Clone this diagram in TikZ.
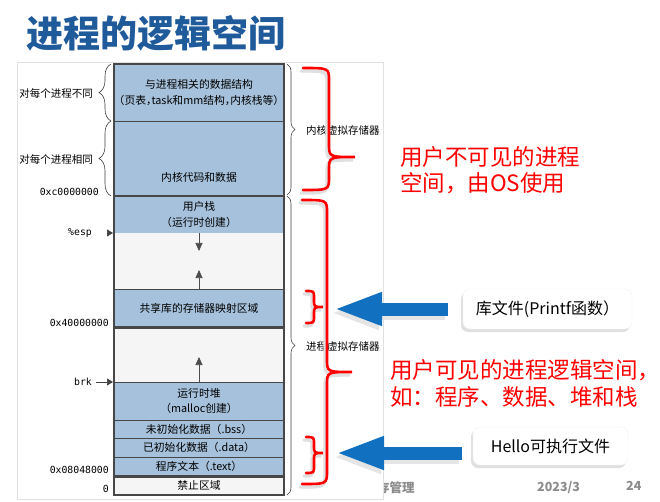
\documentclass[tikz,border=0pt]{standalone}
\usepackage{fontspec}
\setmainfont{Noto Sans CJK SC}
\newfontfamily\addrfont{DejaVu Sans Mono}
\newfontfamily\haltfont{Noto Sans CJK SC}[RawFeature=+halt]
\usetikzlibrary{arrows.meta, positioning, decorations.pathreplacing, shadows}
\definecolor{TitleBlue}{HTML}{1F5A9A}
\definecolor{SegBlue}{HTML}{A6C1DB}
\definecolor{SegEdge}{HTML}{474747}
\definecolor{PtrBlue}{HTML}{1270C0}
\definecolor{FootGray}{HTML}{8C8C8C}
% #1 style, #2 end x, #3 spine x, #4 tip x, #5 top y, #6 tip y, #7 bottom y, #8 hook
\newcommand{\curlybrace}[8]{%
  \draw[#1] (#2,#5) .. controls (#3,#5) .. (#3,#5+#8) -- (#3,#6-#8)
    .. controls (#3,#6) .. (#4,#6) .. controls (#3,#6) .. (#3,#6+#8)
    -- (#3,#7-#8) .. controls (#3,#7) .. (#2,#7);}

\begin{document}
\begin{tikzpicture}[x=1pt, y=-1pt,
  seg/.style={rectangle, fill=SegBlue, minimum width=170pt, minimum height=#1,
    inner sep=0pt, outer sep=0pt, align=center, font=\fontsize{10.8}{15.5}\selectfont},
  hole/.style={seg=#1, fill=black!4},
  segtext/.style={inner sep=0pt, font=\fontsize{10.8}{15.5}\selectfont},
  addr/.style={anchor=east, inner sep=0pt, font=\addrfont\fontsize{9.8}{11}\selectfont},
  side/.style={anchor=east, inner sep=0pt, font=\fontsize{10.5}{12}\selectfont},
  store/.style={anchor=west, inner sep=0pt, font=\fontsize{10.5}{12}\selectfont},
  thinbrace/.style={decorate, decoration={brace, amplitude=#1}, draw=black!75, line width=0.6pt},
  redbrace/.style={draw=red, line width=2.6pt, line cap=round},
  braceshade/.style={draw=black!12, line width=3.4pt, line cap=round,
    transform canvas={xshift=-2pt, yshift=-3pt}},
  growth/.style={draw=black!70, line width=0.7pt, -{Triangle[length=8pt, width=7pt]}},
  pointer/.style={draw=black!75, line width=0.7pt, -{Triangle[length=6pt, width=7pt]}},
  bigarrow/.style={draw=PtrBlue, line width=13pt, -{Triangle[length=49pt, width=30pt]}},
  arrowshade/.style={bigarrow, draw=black!10, transform canvas={xshift=-3pt, yshift=-4pt}},
  callout/.style={rectangle, rounded corners=7pt, fill=white, draw=black!6,
    drop shadow={shadow xshift=-2pt, shadow yshift=-3pt, fill=black!12, opacity=1},
    font=\fontsize{16}{18}\selectfont},
  note/.style={anchor=west, inner sep=0pt, align=left, text=red,
    font=\fontsize{22.5}{26.5}\selectfont},
  footer/.style={anchor=west, inner sep=0pt, text=FootGray,
    font=\bfseries\fontsize{12.5}{14}\selectfont}
]
  \fill[white] (0,0) rectangle (660,502);
  \useasboundingbox (0,0) rectangle (660,502);

  \node[footer] (section) at (377,488) {存管理};
  \node[footer] (date) at (537,488) {2023/3};
  \node[footer] (page) at (626,486) {24};

  % embedded figure
  \draw[fill=white, draw=black!12, line width=0.5pt] (17,62) rectangle (383,499);

  \node[anchor=west, inner sep=0pt, text=TitleBlue,
    font=\bfseries\fontsize{37}{40}\selectfont] (title) at (26,33) {进程的逻辑空间};

  % address space column
  \node[seg=57pt] (kdata) at (199,92.5) {与进程相关的数据结构\\{\haltfont （页表，task和mm结构，内核栈等）}};
  \node[seg=75pt, below=0pt of kdata] (kcode) {};
  \node[segtext] (kcodetext) at ([yshift=19pt]kcode.south) {内核代码和数据};
  \node[seg=37pt, below=0pt of kcode] (ustack) {用户栈\\（运行时创建）};
  \node[hole=56pt, below=0pt of ustack] (stackgap) {};
  \node[seg=38.5pt, below=0pt of stackgap] (shlib) {共享库的存储器映射区域};
  \node[hole=54.5pt, below=0pt of shlib] (heapgap) {};
  \node[seg=38pt, below=0pt of heapgap] (heap) {运行时堆\\（malloc创建）};
  \node[seg=18pt, below=0pt of heap] (bss) {未初始化数据（.bss）};
  \node[seg=19pt, below=0pt of bss] (data) {已初始化数据（.data）};
  \node[seg=19.5pt, below=0pt of data] (progtext) {程序文本（.text）};
  \node[hole=18.5pt, below=0pt of progtext] (forbid) {禁止区域};

  \foreach \seg in {kdata, stackgap, heapgap, heap, bss, data}
    \draw[SegEdge, line width=0.8pt] (\seg.south west) -- (\seg.south east);
  \foreach \seg in {kcode, shlib, progtext}
    \draw[SegEdge, line width=2.6pt] (\seg.south west) -- (\seg.south east);
  \draw[SegEdge, line width=2.6pt] (kdata.north west) rectangle (forbid.south east);

  \coordinate[below=18pt of ustack] (stackend);
  \draw[growth] (ustack.south) -- (stackend);
  \coordinate[above=19pt of shlib] (mmapend);
  \draw[growth] (shlib.north) -- (mmapend);
  \coordinate[above=25pt of heap] (heapend);
  \draw[growth] (heap.north) -- (heapend);

  % left side
  \node[side] (diff) at (93,93) {对每个进程不同};
  \node[side] (same) at (93,159) {对每个进程相同};
  \draw[thinbrace=12pt] (111,121) -- (111,64);
  \draw[thinbrace=12pt] (111,196) -- (111,121);
  \node[addr] (kbase) at (99,192) {0xc0000000};
  \node[addr] (esp) at (92,233) {\%esp};
  \coordinate (espTip) at (113,233);
  \draw[pointer] ([xshift=-6pt]espTip) -- (espTip);
  \node[addr] (mbase) at (109,323) {0x40000000};
  \node[addr] (brk) at (92,382) {brk};
  \coordinate (brkTip) at (113,382);
  \draw[pointer] ([xshift=4pt]brk.east) -- (brkTip);
  \node[addr] (tbase) at (109,470) {0x08048000};
  \node[addr] (zero) at (109,489) {0};

  % right side
  \draw[thinbrace=8pt] (287,64) -- (287,195);
  \node[store] (kvm) at (306,131) {内核虚拟存储器};
  \draw[thinbrace=8pt] (287,196) -- (287,495);
  \node[store] (pvm) at (306,346) {进程虚拟存储器};

  \curlybrace{braceshade}{303}{329}{355}{68}{157}{190}{13}
  \curlybrace{redbrace}{303}{329}{355}{68}{157}{190}{13}
  \curlybrace{braceshade}{302}{327}{352}{200}{372}{484}{13}
  \curlybrace{redbrace}{302}{327}{352}{200}{372}{484}{13}
  \curlybrace{braceshade}{306}{314}{323}{291}{307}{323}{7}
  \curlybrace{redbrace}{306}{314}{323}{291}{307}{323}{7}
  \curlybrace{braceshade}{306}{314}{323}{437}{453}{473}{7}
  \curlybrace{redbrace}{306}{314}{323}{437}{453}{473}{7}

  % callouts
  \node[callout, minimum width=169pt, minimum height=40pt] (lib) at (547.5,309) {库文件(Printf函数）};
  \node[callout, minimum width=155pt, minimum height=38pt] (hello) at (550.5,446) {Hello可执行文件};
  \coordinate (libtip) at (333,309);
  \coordinate (hellotip) at (335,453);
  \draw[arrowshade] ([xshift=-15pt]libtip -| lib.west) -- (libtip);
  \draw[bigarrow] ([xshift=-15pt]libtip -| lib.west) -- (libtip);
  \draw[arrowshade] ([xshift=-11pt]hellotip -| hello.west) -- (hellotip);
  \draw[bigarrow] ([xshift=-11pt]hellotip -| hello.west) -- (hellotip);

  \node[note] (hidden) at (400,170) {用户不可见的进程\\空间，由OS使用};
  \node[note] (visible) at (390,383.5) {用户可见的进程逻辑空间，\\如：程序、数据、堆和栈};
\end{tikzpicture}
\end{document}
